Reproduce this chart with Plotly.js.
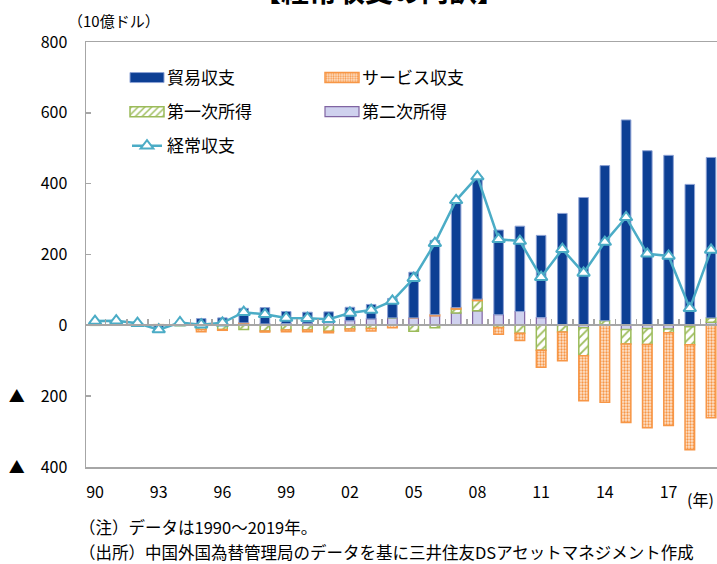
<!DOCTYPE html>
<html>
<head>
<meta charset="utf-8">
<script src="https://cdn.plot.ly/plotly-3.0.1.min.js"></script>
<style>html,body{margin:0;padding:0;background:#fff;}</style>
</head>
<body>
<div id="chart" style="width:717px;height:564px;"></div>
<script>
// ---- data (billion USD) ----
const years = [1990,1991,1992,1993,1994,1995,1996,1997,1998,1999,
               2000,2001,2002,2003,2004,2005,2006,2007,2008,2009,
               2010,2011,2012,2013,2014,2015,2016,2017,2018,2019];
const tickYears  = [1990,1993,1996,1999,2002,2005,2008,2011,2014,2017];
const tickLabels = ['90','93','96','99','02','05','08','11','14','17'];
const yTickVals  = [800,600,400,200,0,-200,-400];
const yTickText  = ['800','600','400','200','0','▲　200','▲　400'];

const trade     = [9,8,5,-13,7,18,19,41,46,34,31,30,38,41,55,129,210,303,346,239,241,232,316,361,438,580,493,480,398,453];
const services  = [2,3,0,1,0,-6,-2,2,-3,-5,-5,-4,-6,-7,-7,0,3,4,4,-19,-21,-48,-81,-127,-217,-221,-235,-262,-296,-261];
const primary   = [1,1,0,-1,-1,-12,-12,-12,-16,-13,-13,-17,-10,-9,0,-17,-7,11,29,-6,-22,-70,-19,-79,13,-41,-45,-11,-51,12];
const secondary = [0,1,1,1,1,1,2,5,4,5,6,8,13,18,21,21,27,35,41,30,39,22,0,-7,0,-12,-9,-10,-4,9];
const current   = [12,13,6,-12,8,2,7,37,31,21,20,17,35,43,69,133,232,353,420,243,238,136,215,148,235,305,202,196,48,213];

const JP = '"Noto Sans CJK JP", "Noto Sans", sans-serif';
const XR = [1989.576, 2019.28];
const BW = 0.45;
const AX = '#a6a6a6';

const traces = [
  {type:'bar', name:'第二次所得', x:years, y:secondary, width:BW,
   marker:{color:'#cfd1ee', line:{color:'#8064a2', width:1.2}},
   legend:'legend2', legendrank:2, legendgroup:'g4', hoverinfo:'skip'},
  {type:'bar', name:'第一次所得', x:years, y:primary, width:BW,
   marker:{color:'white', pattern:{shape:'/', fgcolor:'#9bbb59', bgcolor:'white', size:6, solidity:0.3},
           line:{color:'#9bbb59', width:1.5}},
   legend:'legend', legendrank:2, legendgroup:'g3', hoverinfo:'skip'},
  {type:'bar', name:'サービス収支', x:years, y:services, width:BW,
   marker:{color:'#fde4cf', pattern:{shape:'.', fgcolor:'#f79646', bgcolor:'#fde4cf', size:3, solidity:0.45},
           line:{color:'#f79646', width:1.5}},
   legend:'legend2', legendrank:1, legendgroup:'g2', hoverinfo:'skip'},
  {type:'bar', name:'貿易収支', x:years, y:trade, width:BW,
   marker:{color:'#0d3f94', line:{color:'#8da2d4', width:1}},
   legend:'legend', legendrank:1, legendgroup:'g1', hoverinfo:'skip'},
  {type:'scatter', mode:'lines+markers', name:'経常収支', x:years, y:current, xaxis:'x2', yaxis:'y',
   line:{color:'#4bacc6', width:2.5},
   marker:{symbol:'triangle-up', size:11, color:'white', line:{color:'#4bacc6', width:2}},
   cliponaxis:false, legend:'legend', legendrank:3, legendgroup:'g5', hoverinfo:'skip'}
];

const W = 631, H = 425, L = 86, T = 42;
const px = v => (v - L) / W;
const py = v => (T + H - v) / H;

const layout = {
  width:717, height:564,
  margin:{l:L, r:0, t:T, b:97, pad:0},
  barmode:'relative',
  paper_bgcolor:'white', plot_bgcolor:'white',
  font:{family:JP, size:16, color:'#000'},
  showlegend:true,
  xaxis:{range:XR, tickmode:'array', tickvals:tickYears, ticktext:tickLabels,
         ticks:'', ticklabelstandoff:10, showline:true, linecolor:AX, linewidth:1.5, mirror:true,
         showgrid:false, zeroline:false, tickfont:{size:16, family:JP}},
  xaxis2:{overlaying:'x', anchor:'free', position:1/3, side:'bottom', range:XR,
          tickmode:'linear', tick0:0.5, dtick:1, ticks:'inside', ticklen:5, tickwidth:1.5, tickcolor:AX,
          showticklabels:false, showline:true, linecolor:AX, linewidth:2, showgrid:false, zeroline:false},
  yaxis:{range:[-400,800], tickmode:'array', tickvals:yTickVals, ticktext:yTickText,
         ticks:'inside', ticklen:5, tickwidth:1.5, tickcolor:AX, ticklabelstandoff:14,
         showline:true, linecolor:AX, linewidth:1.5, showgrid:false, zeroline:false,
         tickfont:{size:16, family:JP}},
  legend:{x:px(127), xanchor:'left', y:py(60), yanchor:'top', orientation:'v',
          traceorder:'grouped', tracegroupgap:9, bgcolor:'rgba(0,0,0,0)',
          font:{size:17, family:JP}},
  legend2:{x:px(322), xanchor:'left', y:py(60), yanchor:'top', orientation:'v',
          traceorder:'grouped', tracegroupgap:9, bgcolor:'rgba(0,0,0,0)',
          font:{size:17, family:JP}},
  annotations:[
    {text:'<b>【経常収支の内訳】</b>', xref:'paper', yref:'paper', x:px(379), y:py(12),
     xanchor:'center', yanchor:'bottom', showarrow:false, font:{size:28, family:JP, color:'#000'}},
    {text:'（10億ドル）', xref:'paper', yref:'paper', x:px(66), y:py(20),
     xanchor:'left', yanchor:'middle', showarrow:false, font:{size:15, family:JP, color:'#000'}},
    {text:'(年)', xref:'paper', yref:'paper', x:px(716), y:py(499),
     xanchor:'right', yanchor:'middle', showarrow:false, font:{size:16, family:JP, color:'#000'}},
    {text:'（注）データは1990～2019年。', xref:'paper', yref:'paper', x:px(77), y:py(527),
     xanchor:'left', yanchor:'middle', showarrow:false, font:{size:16.5, family:JP, color:'#000'}},
    {text:'（出所）中国外国為替管理局のデータを基に三井住友DSアセットマネジメント作成', xref:'paper', yref:'paper', x:px(77), y:py(552),
     xanchor:'left', yanchor:'middle', showarrow:false, font:{size:16.5, family:JP, color:'#000'}}
  ]
};

const gd = document.getElementById('chart');
function widenSwatches(){
  gd.querySelectorAll('g.legendpoints path').forEach(function(p){
    if(!p.classList.contains('scatterpts')){
      p.setAttribute('d','M17,5H-17V-5H17Z');
    }
  });
}
Plotly.newPlot(gd, traces, layout, {displayModeBar:false, staticPlot:true}).then(function(){
  widenSwatches();
  setTimeout(widenSwatches, 0);
  setTimeout(widenSwatches, 100);
});
gd.on && gd.on('plotly_afterplot', widenSwatches);
</script>
</body>
</html>
